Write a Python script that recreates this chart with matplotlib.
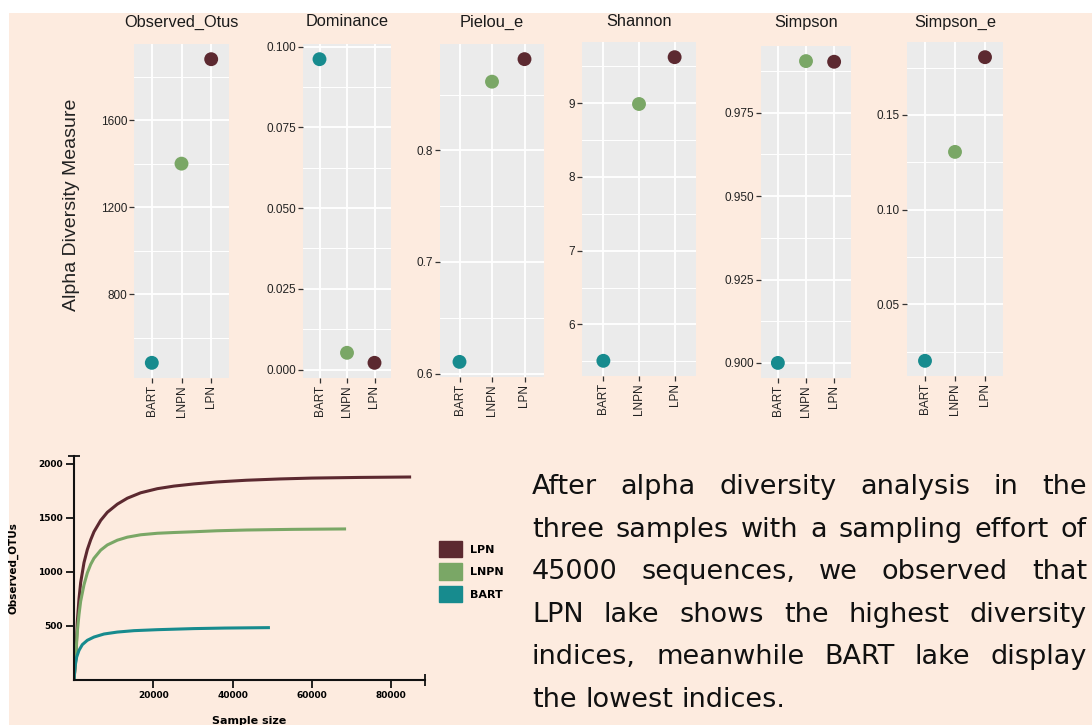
import matplotlib.pyplot as plt
from matplotlib.patches import Rectangle, Patch
from matplotlib.ticker import MultipleLocator, AutoMinorLocator, FormatStrFormatter, FixedLocator

plt.rcParams['font.family'] = ['Liberation Sans', 'DejaVu Sans']

W, H = 1092, 725

samples = ['BART', 'LNPN', 'LPN']
sample_colors = ['#178B8E', '#7AA766', '#5C2930']

observed_otus = [484, 1401, 1882]
dominance = [0.0961, 0.0052, 0.0021]
pielou_e = [0.6105, 0.8615, 0.8817]
shannon = [5.507, 8.99, 9.625]
simpson = [0.900, 0.9905, 0.9903]
simpson_e = [0.0202, 0.1305, 0.1805]

metric_names = ['Observed_Otus', 'Dominance', 'Pielou_e', 'Shannon', 'Simpson', 'Simpson_e']
metric_values = [observed_otus, dominance, pielou_e, shannon, simpson, simpson_e]
tick_steps = [400, 0.025, 0.1, 1, 0.025, 0.05]
tick_formats = ['%d', '%.3f', '%.1f', '%d', '%.3f', '%.2f']

# rarefaction curves
lpn_depth = [0, 420, 840, 1260, 1680, 2520, 3360, 4200, 5040, 6730, 8410, 10930, 13450, 16810,
             21020, 25220, 30260, 36000, 43460, 52000, 60000, 72000, 85000]
lpn_otus = [0, 182, 540, 750, 900, 1085, 1205, 1295, 1370, 1475, 1550, 1625, 1680, 1730,
            1768, 1792, 1812, 1830, 1846, 1858, 1866, 1872, 1876]
lnpn_depth = [0, 420, 840, 1260, 1680, 2520, 3360, 4200, 5040, 6730, 8410, 10930, 13450, 16810,
              21020, 25220, 30260, 36000, 43460, 55000, 68600]
lnpn_otus = [0, 200, 450, 605, 728, 880, 990, 1068, 1125, 1200, 1248, 1292, 1320, 1342,
             1356, 1363, 1370, 1379, 1386, 1392, 1396]
bart_depth = [0, 250, 670, 1260, 2100, 3360, 5040, 7570, 10930, 15130, 21020, 30260, 38000, 49400]
bart_otus = [0, 120, 212, 274, 327, 367, 397, 425, 443, 456, 465, 475, 480, 484]

text_lines = [
    'After alpha diversity analysis in the',
    'three samples with a sampling effort of',
    '45000 sequences, we observed that',
    'LPN lake shows the highest diversity',
    'indices, meanwhile BART lake display',
    'the lowest indices.',
]

panel_boxes = [(134, 44, 229, 378), (303, 44, 391, 378), (440, 44, 544, 377),
               (582, 42, 696, 376), (761, 46, 851, 378), (907, 42, 1003, 376)]


def px_box(left, top, right, bottom):
    return [left / W, 1 - bottom / H, (right - left) / W, (bottom - top) / H]


fig = plt.figure(figsize=(W / 100, H / 100), dpi=100)
fig.add_artist(Rectangle((9 / W, 0), 1 - 9 / W, 1 - 13 / H, transform=fig.transFigure,
                         facecolor='#FDEBDF', edgecolor='none', zorder=-10))

for name, vals, step, fmt, box in zip(metric_names, metric_values, tick_steps, tick_formats, panel_boxes):
    ax = fig.add_axes(px_box(*box))
    ax.set_facecolor('#EBEBEB')
    ax.set_axisbelow(True)
    ax.scatter(samples, vals, c=sample_colors, s=100, zorder=3, linewidths=0)
    ax.set_xlim(-0.6, 2.6)
    ax.yaxis.set_major_locator(MultipleLocator(step))
    ax.yaxis.set_minor_locator(AutoMinorLocator(2))
    ax.yaxis.set_major_formatter(FormatStrFormatter(fmt))
    ax.grid(which='major', color='white', lw=1.3)
    ax.grid(which='minor', axis='y', color='white', lw=0.7)
    ax.tick_params(which='major', length=3.5, width=0.9, color='#333333',
                   labelsize=8.5, labelcolor='#222222', pad=1.5)
    ax.tick_params(which='minor', length=0)
    ax.tick_params(axis='x', labelrotation=90)
    for sp in ax.spines.values():
        sp.set_visible(False)
    cx = (box[0] + box[2]) / 2
    fig.text(cx / W, 1 - 22 / H, name, ha='center', va='center', fontsize=11.8, color='#1a1a1a')

fig.text(72 / W, 1 - 205 / H, 'Alpha Diversity Measure', rotation=90, ha='center', va='center',
         fontsize=14, color='#222222')

# rarefaction plot
ax2 = fig.add_axes(px_box(74, 456, 425, 680))
ax2.set_facecolor('none')
ax2.plot(lpn_depth, lpn_otus, color=sample_colors[2], lw=2.2, solid_capstyle='butt')
ax2.plot(lnpn_depth, lnpn_otus, color=sample_colors[1], lw=2.2, solid_capstyle='butt')
ax2.plot(bart_depth, bart_otus, color=sample_colors[0], lw=2.2, solid_capstyle='butt')
ax2.set_xlim(0, 88500)
ax2.set_ylim(0, 2070)
ax2.set_xticks([20000, 40000, 60000, 80000])
ax2.set_yticks([500, 1000, 1500, 2000])
ax2.yaxis.set_minor_locator(FixedLocator([2070]))
ax2.xaxis.set_minor_locator(FixedLocator([88500]))
for side in ['top', 'right']:
    ax2.spines[side].set_visible(False)
for side in ['left', 'bottom']:
    ax2.spines[side].set_linewidth(1.5)
    ax2.spines[side].set_color('#111111')
ax2.tick_params(which='major', direction='out', length=6, width=1.3, color='#111111',
                labelsize=6.5, pad=2)
ax2.tick_params(which='minor', direction='inout', length=8, width=1.3, color='#111111')
plt.setp(ax2.get_xticklabels() + ax2.get_yticklabels(), fontweight='bold', family='DejaVu Sans')
fig.text(13 / W, 1 - 568 / H, 'Observed_OTUs', rotation=90, ha='center', va='center',
         fontsize=7.5, fontweight='bold', family='DejaVu Sans')
fig.text(249 / W, 1 - 721 / H, 'Sample size', ha='center', va='center',
         fontsize=8, fontweight='bold', family='DejaVu Sans')

handles = [Patch(color=sample_colors[2]), Patch(color=sample_colors[1]), Patch(color=sample_colors[0])]
fig.legend(handles, ['LPN', 'LNPN', 'BART'], loc='upper left', bbox_to_anchor=(439 / W, 1 - 541 / H),
           frameon=False, borderpad=0, borderaxespad=0, handlelength=2.07, handleheight=1.9,
           labelspacing=0.54, handletextpad=0.72,
           prop=dict(family='DejaVu Sans', weight='bold', size=8))

# justified paragraph
text_left, text_right = 532, 1087
renderer = fig.canvas.get_renderer()
for i, line in enumerate(text_lines):
    y = 1 - (494 + i * 42.6) / H
    words = line.split()
    objs = [fig.text(0, y, w, fontsize=19.5, family='DejaVu Sans', color='#111111', va='baseline')
            for w in words]
    widths = [o.get_window_extent(renderer).width for o in objs]
    if i < len(text_lines) - 1:
        gap = (text_right - text_left - sum(widths)) / (len(words) - 1)
    else:
        gap = 19.5 * 0.318 * 100 / 72
    x = text_left
    for o, w in zip(objs, widths):
        o.set_x(x / W)
        x += w + gap

fig.savefig('out.png', dpi=100)
